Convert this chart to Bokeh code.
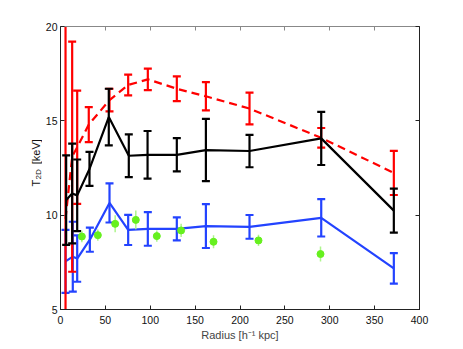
import math
from bokeh.plotting import figure
from bokeh.layouts import row
from bokeh.models import ColumnDataSource, LinearAxis, Range1d, FixedTicker
from bokeh.core.properties import value
from bokeh.embed import file_html
from bokeh.resources import INLINE

# ---- data ----
r_red = [5.6, 13.0, 18.6, 31.5, 54.6, 75.4, 97.3, 129.6, 162.0, 210.6, 290.5, 371.4]
t_red = [9.8, 13.1, 13.6, 14.8, 16.1, 16.9, 17.2, 16.7, 16.3, 15.65, 14.1, 12.24]
e_red = [10.6, 6.1, 3.0, 0.93, 0.6, 0.55, 0.57, 0.66, 0.75, 0.84, 0.52, 1.17]

r_black = [6.3, 13.0, 18.6, 32.3, 53.8, 76.1, 97.0, 129.6, 162.0, 210.6, 290.5, 371.4]
t_black = [10.8, 11.15, 11.05, 12.45, 15.2, 13.15, 13.2, 13.2, 13.45, 13.4, 14.07, 10.24]
e_black = [2.37, 2.64, 1.9, 0.9, 1.5, 1.13, 1.26, 0.88, 1.65, 0.86, 1.41, 1.17]

r_blue = [5.6, 13.7, 18.6, 32.7, 54.6, 75.4, 97.3, 129.6, 162.0, 210.6, 290.5, 371.4]
t_blue = [7.55, 7.8, 7.7, 8.7, 10.65, 9.22, 9.27, 9.27, 9.42, 9.38, 9.86, 7.18]
e_blue = [1.67, 1.85, 1.23, 0.64, 1.04, 0.8, 0.89, 0.61, 1.16, 0.63, 0.99, 0.81]

r_green = [23.8, 41.6, 60.9, 83.9, 107.3, 134.4, 170.5, 220.6, 289.7]
t_green = [8.87, 8.94, 9.54, 9.75, 8.89, 9.19, 8.59, 8.66, 7.94]
e_green = [0.3, 0.3, 0.45, 0.5, 0.3, 0.35, 0.35, 0.3, 0.4]

x_ticks = [0, 50, 100, 150, 200, 250, 300, 350, 400]
y_ticks = [5, 10, 15, 20]

ylabel_parts = ["T", "2D", "[keV]"]
xlabel = "Radius [h\u207b\u00b9 kpc]"

RED = "#ff0000"
BLACK = "#000000"
BLUE = "#2343ff"
GREEN = "#66f01e"
GREEN_ERR = "#aef58c"

X0, X1, Y0, Y1 = 0, 400, 5, 20
LW = 42                      # width of the strip holding the y label
BL, BR, BT, BB = 60 - LW, 36, 26, 33
FW, FH = 359, 284
W, H = BL + FW + BR, BT + FH + BB
FONT = "Liberation Sans"

p = figure(width=W, height=H, output_backend="svg", toolbar_location=None,
           x_range=Range1d(X0, X1), y_range=Range1d(Y0, Y1),
           min_border_left=BL, min_border_right=BR, min_border_top=BT, min_border_bottom=BB)
p.grid.visible = False
p.outline_line_color = "#222222"


def src(r, t, e):
    return ColumnDataSource(dict(x=r, y=t, lo=[a - b for a, b in zip(t, e)], hi=[a + b for a, b in zip(t, e)]))


def series(r, t, e, color, dash="solid"):
    s = src(r, t, e)
    p.line("x", "y", source=s, line_color=color, line_width=2.2, line_dash=dash)
    p.segment(x0="x", y0="lo", x1="x", y1="hi", source=s, line_color=color, line_width=2.2)
    p.scatter("x", "lo", source=s, marker="dash", size=8, line_color=color, line_width=2.2)
    p.scatter("x", "hi", source=s, marker="dash", size=8, line_color=color, line_width=2.2)


series(r_blue, t_blue, e_blue, BLUE)
series(r_red, t_red, e_red, RED, dash="8 5")
series(r_black, t_black, e_black, BLACK)

gs = src(r_green, t_green, e_green)
p.segment(x0="x", y0="lo", x1="x", y1="hi", source=gs, line_color=GREEN_ERR, line_width=1.5)
p.scatter("x", "y", source=gs, marker="circle", size=7, fill_color=GREEN, line_color=GREEN)

# axes
for ax in (p.xaxis[0], p.yaxis[0]):
    ax.major_tick_in = 4
    ax.major_tick_out = 0
    ax.minor_tick_line_color = None
    ax.axis_line_color = "#222222"
    ax.major_tick_line_color = "#222222"
    ax.major_label_text_font = FONT
    ax.major_label_text_font_size = "10.5px"
    ax.major_label_text_color = "#111111"
p.xaxis.ticker = FixedTicker(ticks=x_ticks)
p.yaxis.ticker = FixedTicker(ticks=y_ticks)
p.xaxis.major_label_standoff = 6
p.yaxis.major_label_standoff = 3
p.xaxis.axis_label = xlabel
p.xaxis.axis_label_text_font = FONT
p.xaxis.axis_label_text_font_size = "11px"
p.xaxis.axis_label_text_font_style = "normal"
p.xaxis.axis_label_standoff = 2

top = LinearAxis(ticker=FixedTicker(ticks=x_ticks), major_label_text_font_size="0px",
                 major_tick_in=4, major_tick_out=0, minor_tick_line_color=None,
                 axis_line_color="#888888", major_tick_line_color="#888888", major_label_standoff=0)
right = LinearAxis(ticker=FixedTicker(ticks=y_ticks), major_label_text_font_size="0px",
                   major_tick_in=4, major_tick_out=0, minor_tick_line_color=None,
                   axis_line_color="#222222", major_tick_line_color="#222222", major_label_standoff=0)
p.add_layout(top, "above")
p.add_layout(right, "right")

# ---- y-axis label strip (pixel-mapped figure so the subscript can be set) ----
q = figure(width=LW, height=H, output_backend="svg", toolbar_location=None,
           x_range=Range1d(0, LW), y_range=Range1d(0, H),
           min_border=0, min_border_left=0, min_border_right=0, min_border_top=0, min_border_bottom=0)
q.axis.visible = False
q.grid.visible = False
q.outline_line_color = None
# baseline x, text start (bottom) y in page pixels, font size
lab_x = [35.0, 38.3, 35.5]
lab_y = [194.0, 185.5, 167.0]
lab_fs = ["11px", "8px", "11px"]
for t, xb, yb, fs in zip(ylabel_parts, lab_x, lab_y, lab_fs):
    q.text(x=[xb], y=[H - yb], text=[t], angle=math.pi / 2, text_font=value(FONT),
           text_font_size=value(fs), text_align="left", text_baseline="alphabetic", text_color="#111111")

layout = row(q, p, spacing=0)
open("out.html", "w").write(file_html(layout, INLINE))
